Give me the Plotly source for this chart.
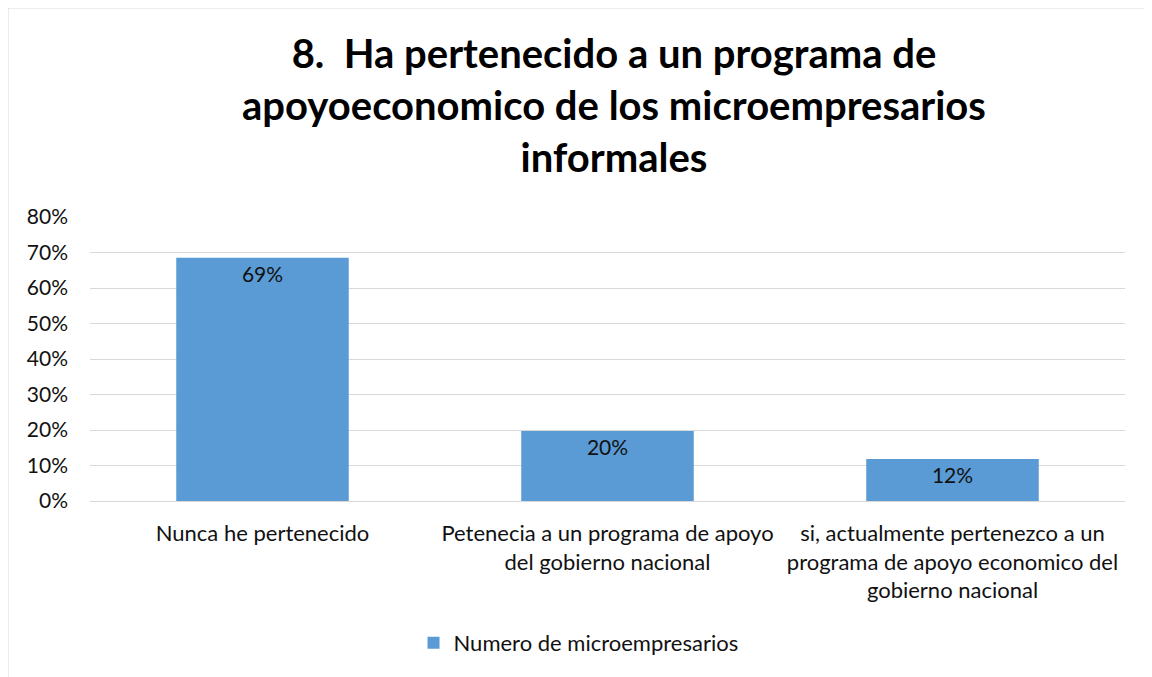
import plotly.graph_objects as go

categories = [
    "Nunca he pertenecido",
    "Petenecia a un programa de apoyo<br>del gobierno nacional",
    "si, actualmente pertenezco a un<br>programa de apoyo economico del<br>gobierno nacional",
]
values = [0.685, 0.197, 0.118]
series_name = "Numero de microempresarios"
title = "8.  Ha pertenecido a un programa de<br>apoyoeconomico de los microempresarios<br>informales"

font_family = "Lato, 'Open Sans', sans-serif"

fig = go.Figure(
    data=[go.Bar(
        x=categories, y=values, name=series_name,
        marker=dict(color="#5a9bd5", line=dict(width=0)),
        width=0.5,
        texttemplate="%{y:.0%}", textposition="inside",
        insidetextanchor="end",
        textfont=dict(size=21, color="#111111", family=font_family),
        showlegend=True,
    )],
    layout=go.Layout(
        width=1144, height=669,
        paper_bgcolor="white", plot_bgcolor="white",
        margin=dict(l=82, r=27, t=209, b=176),
        font=dict(family=font_family, color="#111111"),
        title=dict(text=title, x=0.5297, xanchor="center", y=0.9103, yanchor="middle",
                   font=dict(size=40, family=font_family, color="black", weight="bold")),
        xaxis=dict(tickfont=dict(size=22), showgrid=False, showline=False, ticks="",
                   ticklabelstandoff=17),
        yaxis=dict(range=[0, 0.8], dtick=0.1, tickformat=".0%",
                   tickfont=dict(size=21), gridcolor="#d9d9d9", gridwidth=1,
                   zeroline=True, zerolinecolor="#d9d9d9", zerolinewidth=1,
                   ticklabelstandoff=21),
        legend=dict(orientation="h", x=0.472, xanchor="center", y=-0.5, yanchor="middle",
                    font=dict(size=22), itemwidth=30),
        showlegend=True,
        uniformtext=dict(minsize=10),
        shapes=[dict(type="rect", xref="paper", yref="paper",
                     x0=-82/1035, x1=1.05, y0=-0.7, y1=1 + 209/284,
                     line=dict(color="#d9d9d9", width=1))],
    ),
)

fig.write_html("out.html")
